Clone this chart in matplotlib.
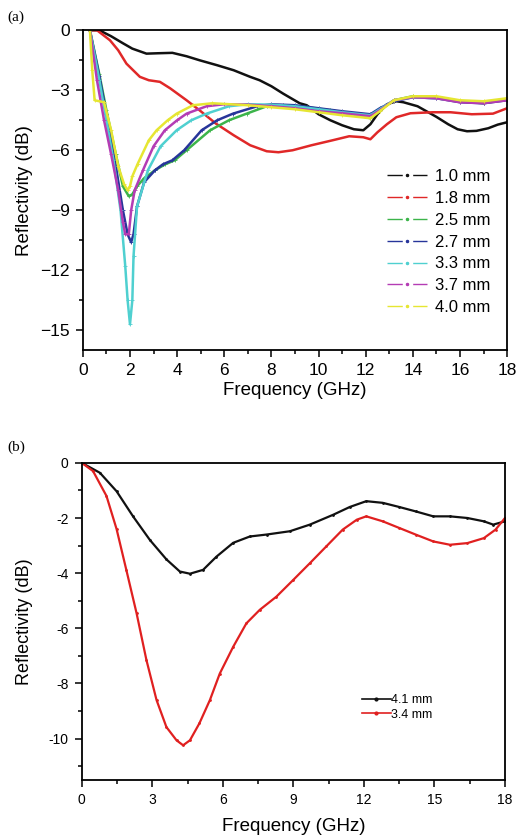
import numpy as np
import matplotlib
matplotlib.use('Agg')
import matplotlib.pyplot as plt
from matplotlib.lines import Line2D
from matplotlib.ticker import MultipleLocator, FuncFormatter

plt.rcParams['font.family'] = ['Liberation Sans', 'DejaVu Sans']

# ── Panel (a): reflectivity vs frequency for 7 thicknesses ─────────────────
labels_a = ['1.0 mm', '1.8 mm', '2.5 mm', '2.7 mm', '3.3 mm', '3.7 mm', '4.0 mm']
colors_a = ['#111111', '#e02828', '#3cb44a', '#27359a', '#4fd0d0', '#b43cb4', '#e6e632']

f10 = [0.3, 0.7, 1.2, 1.7, 2.1, 2.7, 3.2, 3.8, 4.4, 4.95, 5.7, 6.4, 7.1, 7.5, 8.0, 8.5, 9.2,
       9.5, 10.0, 10.5, 11.0, 11.5, 11.9, 12.2, 12.5, 12.9, 13.3, 13.6, 14.2, 15.0, 15.5,
       15.9, 16.3, 16.7, 17.2, 17.6, 18.0]
r10 = [0, 0, -0.3, -0.65, -0.92, -1.17, -1.15, -1.13, -1.3, -1.5, -1.75, -2.0, -2.33, -2.5,
       -2.8, -3.17, -3.65, -3.75, -4.2, -4.5, -4.75, -4.95, -5.0, -4.7, -4.2, -3.7, -3.55,
       -3.6, -3.8, -4.33, -4.7, -4.95, -5.05, -5.03, -4.9, -4.72, -4.6]

f18 = [0.3, 0.6, 1.15, 1.5, 1.85, 2.42, 2.8, 3.27, 3.7, 4.4, 4.95, 5.65, 6.4, 7.1, 7.8, 8.3,
       8.9, 9.7, 10.6, 11.3, 11.9, 12.2, 12.5, 12.9, 13.3, 13.9, 14.85, 15.6, 16.5, 17.4, 18.0]
r18 = [0, 0, -0.5, -1.0, -1.67, -2.33, -2.5, -2.58, -2.9, -3.5, -4.0, -4.67, -5.25, -5.75,
       -6.05, -6.1, -6.0, -5.75, -5.5, -5.3, -5.35, -5.45, -5.1, -4.7, -4.35, -4.15, -4.1,
       -4.1, -4.2, -4.17, -3.9]

f25 = [0.3, 0.7, 1.0, 1.4, 1.7, 1.95, 2.1, 2.3, 2.6, 3.06, 3.5, 3.9, 4.4, 5.4, 6.2, 6.95,
       7.8, 8.5, 9.5, 10.5, 11.5, 12.2, 12.6, 13.2, 14.0, 15.0, 16.0, 17.0, 18.0]
r25 = [0, -2.2, -4.0, -6.2, -7.8, -8.3, -8.2, -7.8, -7.4, -7.0, -6.7, -6.5, -6.0, -5.0, -4.5,
       -4.17, -3.8, -3.75, -3.85, -4.0, -4.2, -4.4, -4.0, -3.5, -3.3, -3.35, -3.55, -3.65, -3.45]

f27 = [0.3, 0.7, 1.0, 1.4, 1.7, 1.9, 2.05, 2.15, 2.3, 2.6, 3.06, 3.4, 3.8, 4.3, 5.04, 5.7,
       6.37, 7.4, 8.0, 9.0, 10.0, 11.0, 12.2, 12.6, 13.2, 14.0, 15.0, 16.0, 17.0, 18.0]
r27 = [0, -2.3, -4.2, -6.8, -9.0, -10.2, -10.6, -10.2, -8.8, -7.6, -7.0, -6.7, -6.5, -6.0,
       -5.0, -4.5, -4.17, -3.8, -3.7, -3.75, -3.9, -4.05, -4.2, -3.9, -3.55, -3.35, -3.4,
       -3.6, -3.65, -3.5]

f33 = [0.3, 0.7, 1.0, 1.3, 1.6, 1.8, 1.9, 2.0, 2.1, 2.15, 2.3, 2.76, 3.3, 3.98, 4.6, 5.25,
       6.2, 7.0, 8.0, 9.0, 10.0, 11.0, 12.2, 12.6, 13.2, 14.0, 15.0, 16.0, 17.0, 18.0]
r33 = [0, -2.5, -4.5, -6.5, -9.0, -11.8, -13.5, -14.7, -13.5, -11.3, -8.8, -7.0, -5.8, -5.0,
       -4.5, -4.17, -3.8, -3.7, -3.72, -3.8, -3.95, -4.1, -4.25, -3.95, -3.5, -3.35, -3.4,
       -3.55, -3.6, -3.45]

f37 = [0.3, 0.6, 0.9, 1.2, 1.5, 1.7, 1.8, 1.95, 2.05, 2.2, 2.55, 3.0, 3.48, 4.0, 4.4, 5.25,
       6.0, 7.0, 8.0, 9.0, 10.0, 11.0, 12.2, 12.6, 13.2, 14.0, 15.0, 16.0, 17.0, 18.0]
r37 = [0, -2.5, -4.5, -6.2, -8.0, -9.6, -10.2, -10.2, -9.0, -8.0, -7.0, -5.8, -5.0, -4.5,
       -4.17, -3.8, -3.7, -3.72, -3.8, -3.9, -4.05, -4.15, -4.3, -4.0, -3.5, -3.35, -3.4,
       -3.6, -3.65, -3.5]

f40 = [0.3, 0.4, 0.5, 0.9, 1.2, 1.5, 1.75, 1.9, 2.0, 2.1, 2.33, 2.8, 3.13, 3.6, 3.98, 4.67,
       5.5, 7.0, 8.0, 9.0, 10.0, 11.0, 12.2, 12.6, 13.2, 14.0, 15.0, 16.0, 17.0, 18.0]
r40 = [0, -2.0, -3.5, -3.6, -5.0, -6.8, -7.7, -8.0, -7.8, -7.3, -6.67, -5.5, -5.0, -4.5,
       -4.17, -3.75, -3.65, -3.75, -3.85, -3.95, -4.1, -4.25, -4.4, -4.05, -3.5, -3.3, -3.3,
       -3.5, -3.55, -3.4]

freqs_a = [f10, f18, f25, f27, f33, f37, f40]
refl_a = [r10, r18, r25, r27, r33, r37, r40]

# ── Panel (b): two thicknesses ─────────────────────────────────────────────
labels_b = ['4.1 mm', '3.4 mm']
colors_b = ['#111111', '#e02020']

f41 = [0, 0.77, 1.48, 2.18, 2.9, 3.6, 4.17, 4.6, 5.16, 5.73, 6.44, 7.15, 7.86, 8.85, 9.7,
       10.7, 11.4, 12.1, 12.8, 13.5, 14.2, 14.95, 15.66, 16.4, 17.1, 17.5, 18.0]
r41 = [0, -0.36, -1.03, -1.94, -2.8, -3.5, -3.94, -4.02, -3.88, -3.4, -2.9, -2.67, -2.6,
       -2.48, -2.24, -1.88, -1.6, -1.39, -1.45, -1.6, -1.76, -1.94, -1.94, -2.0, -2.12,
       -2.24, -2.12]

f34 = [0, 0.48, 1.05, 1.48, 1.9, 2.33, 2.75, 3.18, 3.6, 4.03, 4.31, 4.6, 5.0, 5.45, 5.87,
       6.44, 7.0, 7.57, 8.28, 9.0, 9.7, 10.4, 11.1, 11.7, 12.1, 12.8, 13.5, 14.2, 14.95,
       15.66, 16.4, 17.1, 17.6, 18.0]
r34 = [0, -0.3, -1.2, -2.4, -3.9, -5.45, -7.15, -8.6, -9.58, -10.06, -10.24, -10.06, -9.45,
       -8.6, -7.64, -6.67, -5.82, -5.33, -4.85, -4.24, -3.64, -3.03, -2.42, -2.06, -1.94,
       -2.12, -2.36, -2.6, -2.85, -2.97, -2.91, -2.73, -2.42, -2.0]

freqs_b = [f41, f34]
refl_b = [r41, r34]

fig = plt.figure(figsize=(5.31, 8.4), dpi=100)
ax1 = fig.add_axes([0.156, 0.583, 0.799, 0.381])
ax2 = fig.add_axes([0.154, 0.0714, 0.797, 0.3776])

for ax in (ax1, ax2):
    for s in ax.spines.values():
        s.set_linewidth(1.3)
    ax.tick_params(which='both', direction='out', top=False, right=False, width=1.1)
    ax.tick_params(which='major', length=5, pad=4.5)
    ax.tick_params(which='minor', length=3)

# panel (a)
for i, (f, r) in enumerate(zip(freqs_a, refl_a)):
    mk = '+' if i >= 2 else None
    ax1.plot(f, r, color=colors_a[i], lw=1.8, marker=mk, ms=3, mew=0.6)
ax1.set_xlim(0, 18)
ax1.set_ylim(-16, 0)
ax1.xaxis.set_major_locator(MultipleLocator(2))
ax1.xaxis.set_minor_locator(MultipleLocator(1))
ax1.yaxis.set_major_locator(MultipleLocator(3))
ax1.yaxis.set_minor_locator(MultipleLocator(1.5))
ax1.tick_params(labelsize=12.5)
ax1.set_xlabel('Frequency (GHz)', fontsize=13.5)
ax1.set_ylabel('Reflectivity (dB)', fontsize=13.5)
ax1.xaxis.set_label_coords(0.5, -0.1)
ax1.yaxis.set_label_coords(-0.118, 0.5)

handles_a = [Line2D([], [], color=c, lw=1.0, ls=(0, (11, 3, 1.5, 3, 11)), marker='.', ms=3)
             for c in colors_a]
ax1.legend(handles_a, labels_a, loc='upper left', bbox_to_anchor=(0.717, 0.566),
           frameon=False, fontsize=12, handlelength=2.4, handletextpad=0.5,
           labelspacing=0.41, borderpad=0, borderaxespad=0, numpoints=1)

# panel (b)
for i, (f, r) in enumerate(zip(freqs_b, refl_b)):
    ax2.plot(f, r, color=colors_b[i], lw=1.6, marker='.', ms=2)
ax2.set_xlim(0, 18)
ax2.set_ylim(-11.5, 0)
ax2.xaxis.set_major_locator(MultipleLocator(3))
ax2.xaxis.set_minor_locator(MultipleLocator(1.5))
ax2.yaxis.set_major_locator(MultipleLocator(2))
ax2.yaxis.set_minor_locator(MultipleLocator(1))
ax2.yaxis.set_major_formatter(FuncFormatter(lambda v, p: f'{v:g}'))
ax2.tick_params(labelsize=10)
ax2.set_xlabel('Frequency (GHz)', fontsize=13.5)
ax2.set_ylabel('Reflectivity (dB)', fontsize=13)
ax2.xaxis.set_label_coords(0.5, -0.12)
ax2.yaxis.set_label_coords(-0.116, 0.5)

handles_b = [Line2D([], [], color=c, lw=1.2, marker='.', ms=4) for c in colors_b]
ax2.legend(handles_b, labels_b, loc='upper left', bbox_to_anchor=(0.662, 0.271),
           frameon=False, fontsize=9, handlelength=2.3, handletextpad=0.05,
           labelspacing=0.2, borderpad=0, borderaxespad=0, numpoints=1)

fig.text(0.013, 0.98, '(a)', family=['Liberation Serif', 'DejaVu Serif'], fontsize=11, va='center')
fig.text(0.013, 0.468, '(b)', family=['Liberation Serif', 'DejaVu Serif'], fontsize=11, va='center')

fig.savefig('out.png', dpi=100)
